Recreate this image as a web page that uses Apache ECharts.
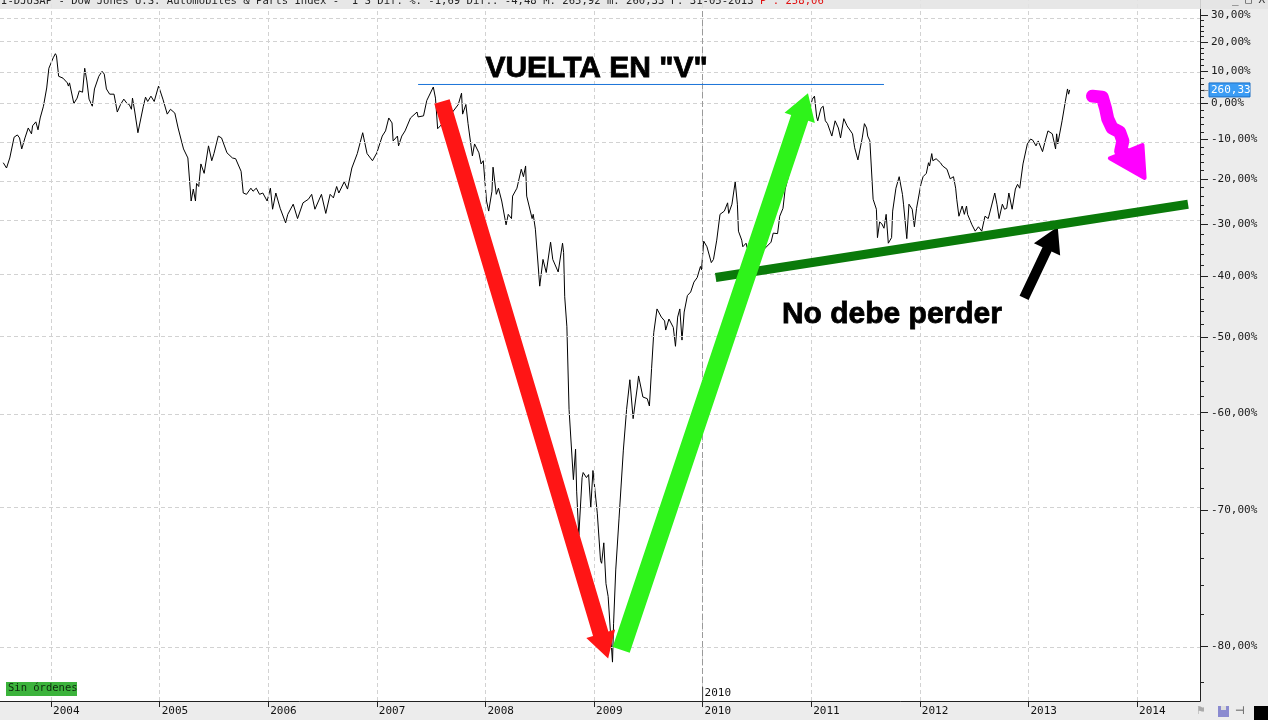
<!DOCTYPE html>
<html><head><meta charset="utf-8">
<script src="https://cdn.jsdelivr.net/npm/echarts@6/dist/echarts.min.js"></script>
<style>html,body{margin:0;padding:0;background:#ececec;overflow:hidden}#c{width:1268px;height:720px}</style>
</head><body><div id="c"></div>
<script>
// ---- data (decimal years, % change on log scale) ----
const dates = [
2003.56,2003.59,2003.62,2003.66,2003.69,2003.71,2003.73,2003.76,2003.79,2003.82,2003.83,2003.86,2003.88,2003.90,2003.93,2003.96,2003.98,
2004.02,2004.04,2004.05,2004.07,2004.11,2004.15,2004.16,2004.17,2004.21,2004.24,2004.26,2004.29,2004.31,2004.33,2004.35,2004.38,2004.40,2004.44,2004.47,2004.49,2004.51,2004.54,2004.58,2004.61,2004.64,2004.67,2004.70,2004.72,2004.74,2004.75,2004.77,2004.80,2004.85,2004.87,2004.89,2004.92,2004.95,2004.99,
2005.03,2005.07,2005.10,2005.14,2005.17,2005.22,2005.26,2005.29,2005.31,2005.33,2005.34,2005.36,2005.38,2005.41,2005.45,2005.48,2005.50,2005.54,2005.57,2005.62,2005.67,2005.70,2005.75,2005.77,2005.80,2005.84,2005.86,2005.89,2005.92,2005.95,2005.99,
2006.02,2006.04,2006.07,2006.11,2006.16,2006.18,2006.23,2006.27,2006.32,2006.37,2006.40,2006.43,2006.49,2006.53,2006.57,2006.60,2006.63,2006.65,2006.70,2006.73,2006.77,2006.82,2006.87,2006.91,2006.96,
2007.00,2007.05,2007.08,2007.11,2007.14,2007.15,2007.19,2007.20,2007.23,2007.26,2007.31,2007.37,2007.38,2007.43,2007.46,2007.52,2007.54,2007.56,2007.63,2007.69,2007.75,2007.78,2007.79,2007.82,2007.84,2007.88,2007.90,2007.94,2007.96,2007.98,
2008.01,2008.03,2008.06,2008.07,2008.10,2008.12,2008.15,2008.19,2008.21,2008.24,2008.25,2008.29,2008.33,2008.35,2008.37,2008.38,2008.43,2008.44,2008.46,2008.50,2008.53,2008.56,2008.60,2008.62,2008.67,2008.71,2008.72,2008.73,2008.75,2008.77,2008.81,2008.83,2008.84,2008.86,2008.89,2008.90,2008.93,2008.95,2008.97,2008.99,
2009.03,2009.06,2009.07,2009.09,2009.11,2009.13,2009.15,2009.17,2009.18,2009.20,2009.23,2009.27,2009.30,2009.33,2009.36,2009.40,2009.41,2009.45,2009.49,2009.51,2009.53,2009.55,2009.58,2009.62,2009.65,2009.66,2009.69,2009.73,2009.75,2009.77,2009.79,2009.81,2009.83,2009.86,2009.89,2009.92,2009.95,2009.98,2009.99,
2010.01,2010.04,2010.08,2010.10,2010.13,2010.16,2010.20,2010.23,2010.24,2010.27,2010.30,2010.32,2010.33,2010.36,2010.37,2010.40,2010.41,2010.48,2010.56,2010.63,2010.65,2010.69,2010.71,2010.74,2010.76,2010.79,2010.82,2010.87,2010.90,2010.94,2010.97,
2011.01,2011.03,2011.05,2011.06,2011.09,2011.11,2011.13,2011.15,2011.19,2011.22,2011.25,2011.27,2011.30,2011.33,2011.38,2011.40,2011.43,2011.47,2011.49,2011.51,2011.52,2011.54,2011.57,2011.60,2011.61,2011.63,2011.65,2011.67,2011.69,2011.71,2011.74,2011.75,2011.78,2011.81,2011.84,2011.85,2011.88,2011.90,2011.93,2011.95,2011.97,2011.98,
2012.01,2012.03,2012.06,2012.08,2012.09,2012.11,2012.12,2012.15,2012.19,2012.21,2012.25,2012.28,2012.31,2012.33,2012.34,2012.36,2012.39,2012.41,2012.43,2012.44,2012.48,2012.51,2012.54,2012.57,2012.60,2012.63,2012.66,2012.69,2012.71,2012.73,2012.76,2012.78,2012.80,2012.82,2012.85,2012.88,2012.90,2012.92,2012.95,2012.99,
2013.02,2013.04,2013.07,2013.09,2013.13,2013.15,2013.18,2013.22,2013.25,2013.26,2013.27,2013.31,2013.34,2013.36,2013.37,2013.38
];
const pctValues = [
-16.1,-17.4,-14.9,-9.5,-8.9,-9.7,-12.6,-9.7,-7.0,-8.6,-6.4,-5.3,-7.5,-4.2,-0.8,4.7,11.0,
14.5,15.9,15.2,8.4,7.8,6.3,5.3,6.3,0.0,1.6,3.8,3.4,11.0,6.9,1.3,-0.8,4.4,8.4,10.0,9.1,4.4,2.8,2.8,-2.5,-0.3,1.3,0.0,-0.3,-1.7,1.6,-2.2,-8.3,-0.8,1.9,0.6,2.2,0.6,5.3,
1.3,-3.1,-1.7,-2.8,-7.0,-12.6,-14.9,-25.1,-22.4,-25.1,-21.1,-21.8,-16.4,-18.7,-11.8,-15.6,-13.8,-9.2,-9.7,-13.6,-14.9,-15.1,-18.2,-23.3,-23.6,-22.2,-22.9,-22.2,-23.6,-23.3,-25.1,
-22.2,-26.9,-23.3,-26.7,-29.8,-28.0,-25.8,-28.9,-25.5,-24.7,-23.6,-26.9,-23.6,-27.8,-23.6,-24.4,-21.8,-23.3,-20.7,-22.4,-17.4,-13.8,-8.3,-13.8,-15.6,
-13.6,-9.2,-7.8,-4.2,-5.6,-10.5,-9.2,-11.8,-9.2,-7.8,-4.2,-2.5,-3.9,-3.6,0.9,5.0,1.6,-7.2,-5.0,-2.8,-0.3,3.1,-3.1,-0.3,-5.8,-14.4,-11.3,-13.6,-16.4,-15.6,
-25.1,-27.3,-22.9,-17.2,-23.6,-22.2,-25.1,-30.2,-28.0,-28.9,-24.0,-22.2,-17.7,-19.5,-16.9,-24.0,-28.9,-28.0,-31.1,-41.8,-37.0,-39.4,-33.7,-37.0,-39.3,-33.9,-35.7,-43.6,-48.4,-59.6,-67.2,-64.1,-68.3,-72.2,-67.0,-66.5,-67.0,-66.7,-69.8,-66.3,
-70.3,-74.2,-74.4,-72.8,-75.9,-76.8,-79.0,-80.9,-78.6,-74.9,-70.8,-64.2,-59.6,-55.9,-60.7,-56.7,-55.4,-58.1,-58.3,-59.2,-54.4,-49.3,-45.6,-46.9,-47.5,-48.9,-47.2,-48.5,-51.3,-46.9,-45.6,-50.4,-46.1,-43.4,-42.8,-41.1,-40.3,-38.3,-38.9,
-33.5,-34.6,-37.6,-37.0,-33.3,-28.0,-27.3,-25.5,-27.8,-25.8,-20.7,-25.8,-31.5,-33.3,-34.6,-33.9,-34.8,-34.3,-35.2,-33.7,-31.9,-32.0,-28.4,-26.7,-22.4,-19.5,-16.4,-12.3,-9.7,-5.8,-4.4,
1.3,2.2,-3.9,-5.0,-1.4,-0.8,-5.0,-5.8,-9.2,-5.0,-7.0,-9.7,-4.4,-6.4,-8.6,-12.3,-15.4,-9.7,-5.8,-7.0,-9.2,-10.5,-24.7,-26.9,-32.8,-29.6,-30.0,-30.9,-28.0,-33.9,-32.8,-27.3,-22.2,-19.5,-23.6,-25.8,-33.0,-25.8,-26.9,-30.6,-26.7,-26.9,
-21.3,-19.5,-18.7,-16.1,-16.9,-13.8,-15.6,-15.1,-16.1,-16.9,-17.7,-20.0,-19.5,-22.2,-24.7,-28.4,-26.2,-28.0,-26.2,-28.0,-30.2,-31.5,-30.6,-31.5,-28.4,-28.9,-26.2,-23.3,-25.8,-28.9,-25.8,-26.9,-26.7,-23.3,-26.9,-22.4,-21.3,-22.2,-16.4,-11.3,
-10.0,-10.3,-11.8,-10.5,-13.3,-11.0,-7.8,-8.6,-12.6,-8.6,-11.3,-5.0,0.6,4.4,2.8,4.1
];
const yearTicks = [2004,2005,2006,2007,2008,2009,2010,2011,2012,2013,2014];
const pctTicks = [30,20,10,0,-10,-20,-30,-40,-50,-60,-70,-80];
const minorPctTicks = [28,26,24,22,18,16,14,12,8,6,4,2,-2,-4,-6,-8,-12,-14,-16,-18,-22,-24,-26,-28,-32,-34,-36,-38,-42,-44,-46,-48,-52,-54,-56,-58,-62,-64,-66,-68,-72,-74,-76,-78,-82];
const crosshairYear = 2010;
const lastPriceLabel = '260,33';
const headerMain = 'I-DJUSAP - Dow Jones U.S. Automobiles & Parts Index -  1 S Dif. %: -1,69 Dif.: -4,48 M: 265,92 m: 260,33 F: 31-05-2013 ';
const headerPrice = 'P : 258,06';
// annotations, in data units [year, %]
const titleText = 'VUELTA EN "V"';
const titlePos = [2008.00, 10.9];
const noteText = 'No debe perder';
const notePos = [2010.73, -46.6];
const blueLine = [[2007.38, 5.8], [2011.67, 5.8]];
const supportLine = [[2010.12, -40.3], [2014.47, -25.8]];
const redArrow = [[2007.60, 0.6], [2009.13, -80.7]];
const greenArrow = [[2009.25, -80.2], [2010.97, 3.1]];
const blackArrow = [[2012.96, -43.8], [2013.27, -30.6]];
const magentaPath = [[2013.59, 2.2], [2013.68, 1.9], [2013.71, -1.4], [2013.73, -4.4], [2013.77, -7.0], [2013.84, -8.1], [2013.87, -10.5], [2013.85, -13.1], [2013.92, -14.4]];
const magentaHead = [[2013.75, -15.0], [2014.05, -11.6], [2014.07, -19.8]];

const xMin = 2003.53, xMax = 2014.58;
const yMin = -0.769, yMax = 0.1332;
const L = p => Math.log10(1 + p / 100);
const fmtPct = v => ((Math.pow(10, v) - 1) * 100).toFixed(2).replace('.', ',') + '%';
const MONO = '"DejaVu Sans Mono", monospace';

function arrowPolygon(a, b, shaftW, headW, headL, color) {
  const dx = b[0] - a[0], dy = b[1] - a[1], len = Math.hypot(dx, dy);
  const ux = dx / len, uy = dy / len, nx = -uy, ny = ux;
  const bx = b[0] - ux * headL, by = b[1] - uy * headL;
  const s = shaftW / 2, h = headW / 2;
  return { type: 'polygon', shape: { points: [
    [a[0] + nx * s, a[1] + ny * s], [bx + nx * s, by + ny * s], [bx + nx * h, by + ny * h], [b[0], b[1]],
    [bx - nx * h, by - ny * h], [bx - nx * s, by - ny * s], [a[0] - nx * s, a[1] - ny * s]] },
    style: { fill: color } };
}

function renderAnnotations(params, api) {
  const P = pt => api.coord([pt[0], L(pt[1])]);
  const right = api.coord([xMax, 0])[0];
  const bottom = api.coord([xMin, yMin])[1];
  const ch = [];
  // minor ticks on the right axis
  minorPctTicks.forEach(p => {
    const y = Math.round(api.coord([xMax, L(p)])[1]) + 0.5;
    ch.push({ type: 'line', shape: { x1: right, y1: y, x2: right + 4, y2: y }, style: { stroke: '#222', lineWidth: 1 } });
  });
  // crosshair label
  const cx = api.coord([crosshairYear, 0])[0];
  ch.push({ type: 'line', shape: { x1: cx, y1: bottom - 14, x2: cx, y2: bottom }, style: { stroke: '#444', lineWidth: 1 } });
  ch.push({ type: 'text', x: cx + 2, y: bottom - 8, style: { text: String(crosshairYear), font: '11px ' + MONO, fill: '#111', align: 'left', verticalAlign: 'middle' } });
  // last price label
  const ly = P([xMax, pctValues[pctValues.length - 1]])[1];
  ch.push({ type: 'rect', shape: { x: right + 9, y: ly - 7, width: 41, height: 14 }, style: { fill: '#3b9cf4', stroke: '#1d6fc4', lineWidth: 1 } });
  ch.push({ type: 'text', x: right + 11, y: ly, style: { text: lastPriceLabel, font: '11px ' + MONO, fill: '#fff', align: 'left', verticalAlign: 'middle' } });
  ch.push({ type: 'text', x: right + 1, y: ly, style: { text: '←', font: '9px sans-serif', fill: '#333', align: 'left', verticalAlign: 'middle' } });
  // blue reference line
  const b0 = P(blueLine[0]), b1 = P(blueLine[1]);
  ch.push({ type: 'line', shape: { x1: b0[0], y1: b0[1], x2: b1[0], y2: b1[1] }, style: { stroke: '#1a74d8', lineWidth: 1 } });
  // black arrow
  ch.push(arrowPolygon(P(blackArrow[0]), P(blackArrow[1]), 10, 29, 25, '#000'));
  // support line
  const s0 = P(supportLine[0]), s1 = P(supportLine[1]);
  ch.push({ type: 'line', shape: { x1: s0[0], y1: s0[1], x2: s1[0], y2: s1[1] }, style: { stroke: '#0a7a0a', lineWidth: 9 } });
  // red & green arrows
  ch.push(arrowPolygon(P(redArrow[0]), P(redArrow[1]), 16, 30, 26, '#ff1515'));
  ch.push(arrowPolygon(P(greenArrow[0]), P(greenArrow[1]), 18, 32, 26, '#2ef31a'));
  // magenta scribble
  ch.push({ type: 'polyline', shape: { points: magentaPath.map(P) }, style: { stroke: '#ff00ff', lineWidth: 13, lineCap: 'round', lineJoin: 'round', fill: null } });
  ch.push({ type: 'polygon', shape: { points: magentaHead.map(P) }, style: { fill: '#ff00ff', stroke: '#ff00ff', lineWidth: 4, lineJoin: 'round' } });
  // texts
  const t = P(titlePos);
  ch.push({ type: 'text', x: t[0], y: t[1], style: { text: titleText, font: 'bold 30px "Liberation Sans", Arial, sans-serif', fill: '#000', stroke: '#000', lineWidth: 0.8, align: 'left', verticalAlign: 'middle' } });
  const n = P(notePos);
  ch.push({ type: 'text', x: n[0], y: n[1], style: { text: noteText, font: 'bold 30px "Liberation Sans", Arial, sans-serif', fill: '#000', stroke: '#000', lineWidth: 0.8, align: 'left', verticalAlign: 'middle' } });
  return { type: 'group', children: ch };
}

const chart = echarts.init(document.getElementById('c'), null, { renderer: 'canvas' });
const gridDash = { type: [4, 3], color: '#d2d2d2', width: 1 };
chart.setOption({
  animation: false,
  backgroundColor: '#ececec',
  grid: { left: 0, right: 68, top: 0, bottom: 19, show: true, backgroundColor: '#ffffff', borderWidth: 0 },
  xAxis: {
    type: 'value', min: xMin, max: xMax,
    axisLine: { show: true, onZero: false, lineStyle: { color: '#222', width: 1 } },
    axisTick: { show: true, customValues: yearTicks, length: 6, lineStyle: { color: '#222' } },
    axisLabel: { customValues: yearTicks, formatter: v => String(v), align: 'left', margin: 5, padding: [0, 0, 0, 2], fontFamily: MONO, fontSize: 11, color: '#111' },
    splitLine: { show: false }
  },
  yAxis: {
    type: 'value', position: 'right', min: yMin, max: yMax,
    axisLine: { show: true, onZero: false, lineStyle: { color: '#222', width: 1 } },
    axisTick: { show: true, customValues: pctTicks.map(L), length: 8, lineStyle: { color: '#222' } },
    axisLabel: { customValues: pctTicks.map(L), formatter: v => fmtPct(v), margin: 11, fontFamily: MONO, fontSize: 11, color: '#1a1a1a' },
    splitLine: { show: false }
  },
  series: [
    {
      type: 'line', name: 'grid', data: [[xMin, L(0)]], showSymbol: false, silent: true, z: 1,
      lineStyle: { opacity: 0 },
      markLine: {
        silent: true, symbol: ['none', 'none'], label: { show: false }, animation: false,
        lineStyle: gridDash,
        data: pctTicks.map(p => ({ yAxis: L(p) }))
          .concat(yearTicks.map(y => ({ xAxis: y })))
          .concat([{ xAxis: crosshairYear, lineStyle: { type: [6, 3], color: '#9a9a9a', width: 1 } }])
      }
    },
    {
      type: 'line', name: 'I-DJUSAP', data: dates.map((d, i) => [d, L(pctValues[i])]),
      showSymbol: false, z: 3, silent: true,
      lineStyle: { color: '#000', width: 1 }
    },
    {
      type: 'custom', name: 'annotations', data: [[xMin, 0]], renderItem: renderAnnotations,
      clip: false, silent: true, z: 10
    }
  ],
  graphic: [
    { type: 'rect', left: 0, top: 0, z: 100, shape: { width: 1268, height: 9 }, style: { fill: 'rgba(228,228,228,0.88)' } },
    { type: 'text', left: 1, top: -4, z: 101, style: { rich: { a: { fill: '#222', font: '10.6px ' + MONO }, b: { fill: '#e01010', font: '10.6px ' + MONO } }, text: '{a|' + headerMain + '}{b|' + headerPrice + '}' } },
    { type: 'text', left: 1232, top: -5, z: 101, style: { text: '_ □ X', font: '11px ' + MONO, fill: '#333' } },
    { type: 'rect', left: 6, top: 682, z: 50, shape: { width: 71, height: 14 }, style: { fill: '#3cb33c' } },
    { type: 'text', left: 8, top: 683, z: 51, style: { text: 'Sin órdenes', font: '10.5px ' + MONO, fill: '#0e2a0e' } },
    { type: 'rect', left: 1218, top: 706, z: 50, shape: { width: 11, height: 11 }, style: { fill: '#8a8ad0' } },
    { type: 'rect', left: 1221, top: 706, z: 51, shape: { width: 5, height: 4 }, style: { fill: '#ddd' } },
    { type: 'text', left: 1235, top: 705, z: 51, style: { text: '⊣', font: '11px sans-serif', fill: '#333' } },
    { type: 'rect', left: 1254, top: 706, z: 50, shape: { width: 14, height: 14 }, style: { fill: '#000' } },
    { type: 'text', left: 1196, top: 705, z: 51, style: { text: '⚑', font: '11px sans-serif', fill: '#aaa' } }
  ]
});
</script>
</body></html>
